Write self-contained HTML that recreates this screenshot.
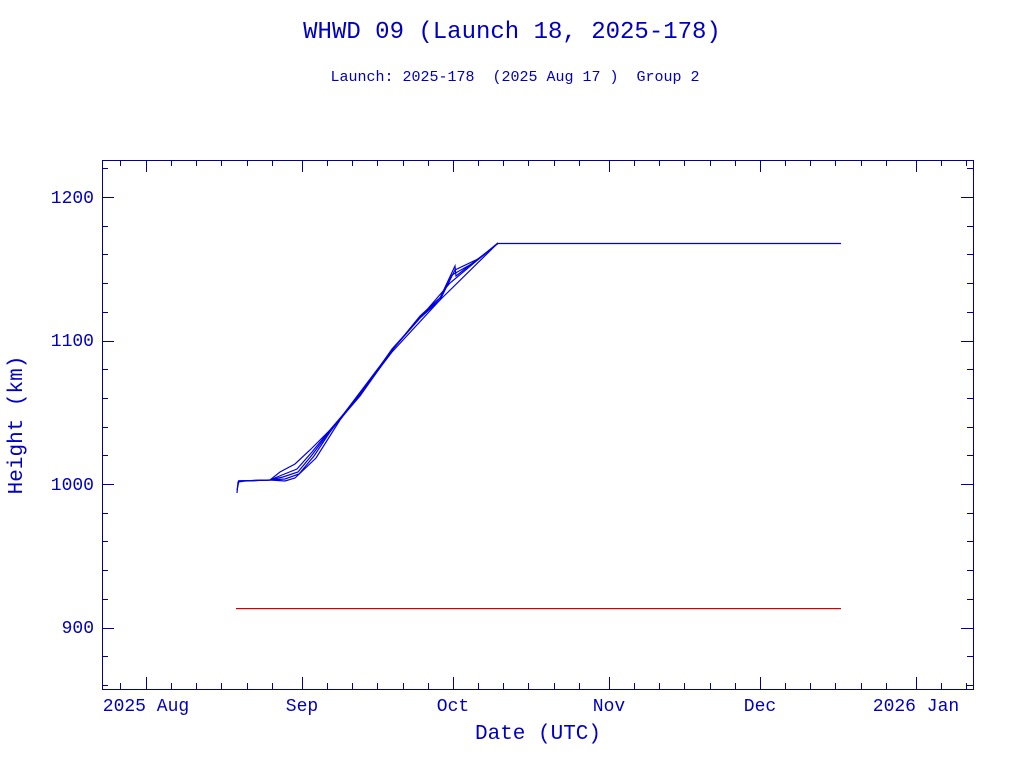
<!DOCTYPE html>
<html><head><style>
body{margin:0;background:#fff;}
svg text{font-family:"Liberation Mono",monospace;fill:#0000c0;}
</style></head><body>
<div style="position:absolute;left:236px;top:608px;width:605px;height:1px;background:#d00000;z-index:2"></div>
<svg width="1024" height="768" viewBox="0 0 1024 768" xmlns="http://www.w3.org/2000/svg">
<text x="512" y="38" font-size="24" text-anchor="middle">WHWD 09 (Launch 18, 2025-178)</text>
<text x="515" y="81" font-size="15" text-anchor="middle" xml:space="preserve">Launch: 2025-178  (2025 Aug 17 )  Group 2</text>
<rect x="102.5" y="160.5" width="871" height="529" fill="none" stroke="#0000a0" stroke-width="1"/>
<g stroke="#0000a0" stroke-width="1" id="ticks"></g>
<g font-size="18" text-anchor="end">
<text x="94" y="203">1200</text><text x="94" y="346">1100</text><text x="94" y="490">1000</text><text x="94" y="633">900</text>
</g>
<g font-size="18" text-anchor="middle">
<text x="146" y="711">2025 Aug</text><text x="302" y="711">Sep</text><text x="453" y="711">Oct</text><text x="609" y="711">Nov</text><text x="760" y="711">Dec</text><text x="916" y="711">2026 Jan</text>
<text x="538" y="739" font-size="21">Date (UTC)</text>
</g>
<text transform="translate(22,425) rotate(-90)" font-size="21" text-anchor="middle">Height (km)</text>
<rect x="236" y="608" width="605" height="1.2" fill="#d00000"/>
<g fill="none" stroke="#0000e0" stroke-width="1.2">
<polyline points="237,493 238,482 245,481 270,480 280,472 295,464 310,450 330,430 360,395 392,349 420,318 440,298 455,266 456,276 470,265 498,243.5 841,243.5"/>
<polyline points="237,490 239,481 270,480 282,475 297,469 312,452 330,430 360,395 392,350 420,318 440,300 452,275 475,262 498,243"/>
<polyline points="238,481 270,480 283,477 298,472 312,455 330,431 360,396 394,348 420,316 442,296 455,270 480,258 498,243"/>
<polyline points="238,481 270,480 285,479 299,474 314,456 330,432 392,350 425,312 450,283 498,243"/>
<polyline points="270,480 285,481 295,478 316,458 340,420 392,352 440,300 498,243"/>
</g>
</svg>
<script>
var g=document.getElementById('ticks'),s='';
function L(a,b,c,d){s+='<line x1="'+a+'" y1="'+b+'" x2="'+c+'" y2="'+d+'"/>';}
var pxkm=1.435;
for(var v=860;v<=1220;v+=20){var y=484+(1000-v)*pxkm;y=Math.round(y)+0.5;var l=(v%100==0)?12:6;L(102,y,102+l,y);L(973,y,973-l,y);}
var months=[[146,31],[302,30],[453,31],[609,30],[760,31],[916,31]];
var ppd=5.03;
months.forEach(function(m){var x=Math.round(m[0])+0.5;L(x,689,x,677);L(x,160,x,172);
for(var d=5;d<=25;d+=5){var xx=Math.round(m[0]+d*ppd)+0.5;if(xx<973){L(xx,689,xx,683);L(xx,160,xx,166);}}});
L(120.5,689,120.5,683);L(120.5,160,120.5,166);
g.innerHTML=s;
</script>
</body></html>
